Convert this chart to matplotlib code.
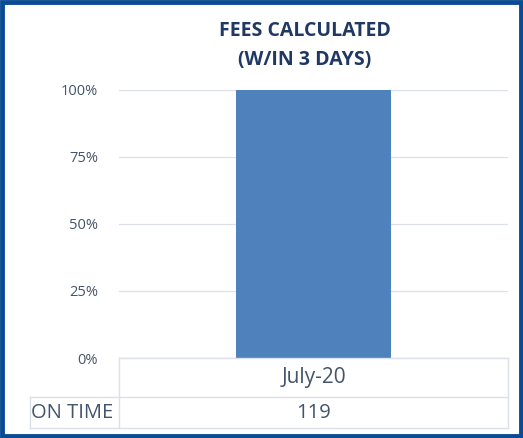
import numpy as np
import matplotlib
matplotlib.use('Agg')
import matplotlib.pyplot as plt
from matplotlib.lines import Line2D
from matplotlib.patches import Rectangle

# data
categories = ['July-20']
pct_on_time = [100]
row_label = 'ON TIME'
row_values = ['119']
yticks = [0, 25, 50, 75, 100]
title = 'FEES CALCULATED\n(W/IN 3 DAYS)'

W, H = 523, 438
plt.rcParams['font.family'] = ['Open Sans', 'DejaVu Sans']

fig = plt.figure(figsize=(W / 100, H / 100), dpi=100)
fx = lambda px: px / W
fy = lambda py: 1 - py / H

# plot area
x0, x1, ytop, ybot = 119, 508, 90, 358
ax = fig.add_axes([fx(x0), fy(ybot), fx(x1 - x0), fy(ytop) - fy(ybot)])
x = np.arange(len(categories))
ax.bar(x, pct_on_time, width=0.4, color='#4F81BD', zorder=3)
ax.set_xlim(-0.5, 0.5)
ax.set_ylim(0, 100)
ax.set_yticks(yticks)
ax.set_yticklabels([f'{v}%' for v in yticks], color='#44546A', fontsize=10.5)
ax.tick_params(axis='y', length=0, pad=15)
ax.set_xticks([])
ax.grid(axis='y', color='#DCE0E8', lw=0.9, zorder=0)
for s in ax.spines.values():
    s.set_visible(False)

fig.text(fx(305), fy(45), title, ha='center', va='center', fontsize=14,
         fontweight='bold', color='#1F3864', linespacing=1.6)

# data table below the axis
lc = '#DCE0E8'
r0, r1, r2 = 358, 397, 428
lx = 30
segs = [((x0, r0), (x1, r0)), ((lx, r1), (x1, r1)), ((lx, r2), (x1, r2)),
        ((x0, r0), (x0, r2)), ((x1, r0), (x1, r2)), ((lx, r1), (lx, r2))]
for (a, b), (c, d) in segs:
    fig.add_artist(Line2D([fx(a), fx(c)], [fy(b), fy(d)], color=lc, lw=1))

col_w = (x1 - x0) / len(categories)
for i, (cat, val) in enumerate(zip(categories, row_values)):
    cx = x0 + col_w * (i + 0.5)
    fig.text(fx(cx), fy((r0 + r1) / 2), cat, ha='center', va='center',
             fontsize=15, color='#44546A')
    fig.text(fx(cx), fy((r1 + r2) / 2), val, ha='center', va='center',
             fontsize=14.5, color='#44546A')
fig.text(fx(lx + 1), fy((r1 + r2) / 2), row_label, ha='left', va='center',
         fontsize=14.5, color='#44546A')

# outer border
fig.add_artist(Rectangle((fx(2), fy(436)), fx(519), fy(2) - fy(436),
                         fill=False, ec='#0B4A94', lw=3.5))

fig.savefig('out.png', dpi=100)
